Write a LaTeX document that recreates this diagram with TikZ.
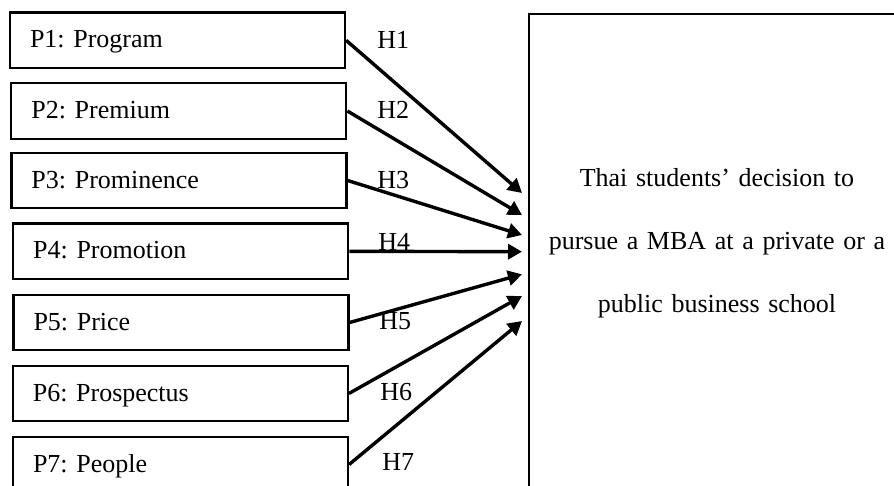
\documentclass[tikz,border=0pt]{standalone}
\usepackage{fontspec}
\setmainfont{Liberation Serif}
\usepackage{tikz}
\usetikzlibrary{arrows.meta,calc}
\frenchspacing

\begin{document}
\begin{tikzpicture}[>={Triangle[length=7pt,width=7.5pt]}, x=0.5pt, y=-0.5pt,
    factor/.style={draw, line width=1.1pt, minimum height=27.75pt, text width=147.5pt,
      text height=9.2pt, text depth=1.65pt, inner xsep=10pt, align=left,
      font=\fontsize{13}{15}\selectfont},
    hyp/.style={anchor=west, inner sep=0pt, font=\fontsize{13}{15}\selectfont},
    link/.style={->, line width=1.7pt}]
  \useasboundingbox (0,0) rectangle (894,486);
  \clip (0,0) rectangle (894,486);
  % outcome box, runs off the page on the right and below
  \node[draw, line width=1.1pt, anchor=north west, minimum width=200pt, minimum height=260pt]
    (dec) at (528,12.7) {};
  \node[text width=180pt, align=center, font=\fontsize{13}{31.5}\selectfont]
    (dectext) at (717,243) {Thai students’ decision to\\ pursue a MBA at a private or a\\ public business school};
  % the seven P factors with their hypotheses
  \foreach \i/\cx/\cy/\lab/\ty/\hx/\hy in {
      1/177.5/40.3/Program/193/377/40,
      2/178.8/111/Premium/215/377/110,
      3/179/180.5/Prominence/235/377/180,
      4/180.7/251.3/Promotion/251.7/378/242,
      5/181/322.5/Price/274.3/379/321.5,
      6/180.3/393.5/Prospectus/296/380/392,
      7/180.5/464.5/People/321/382/462} {
    \node[factor] (p\i) at (\cx,\cy) {P\i: \lab};
    \coordinate (t\i) at (522,\ty);
    \draw[link] (p\i.east) -- (t\i);
    \node[hyp] (h\i) at (\hx,\hy) {H\i};
  }
\end{tikzpicture}
\end{document}
